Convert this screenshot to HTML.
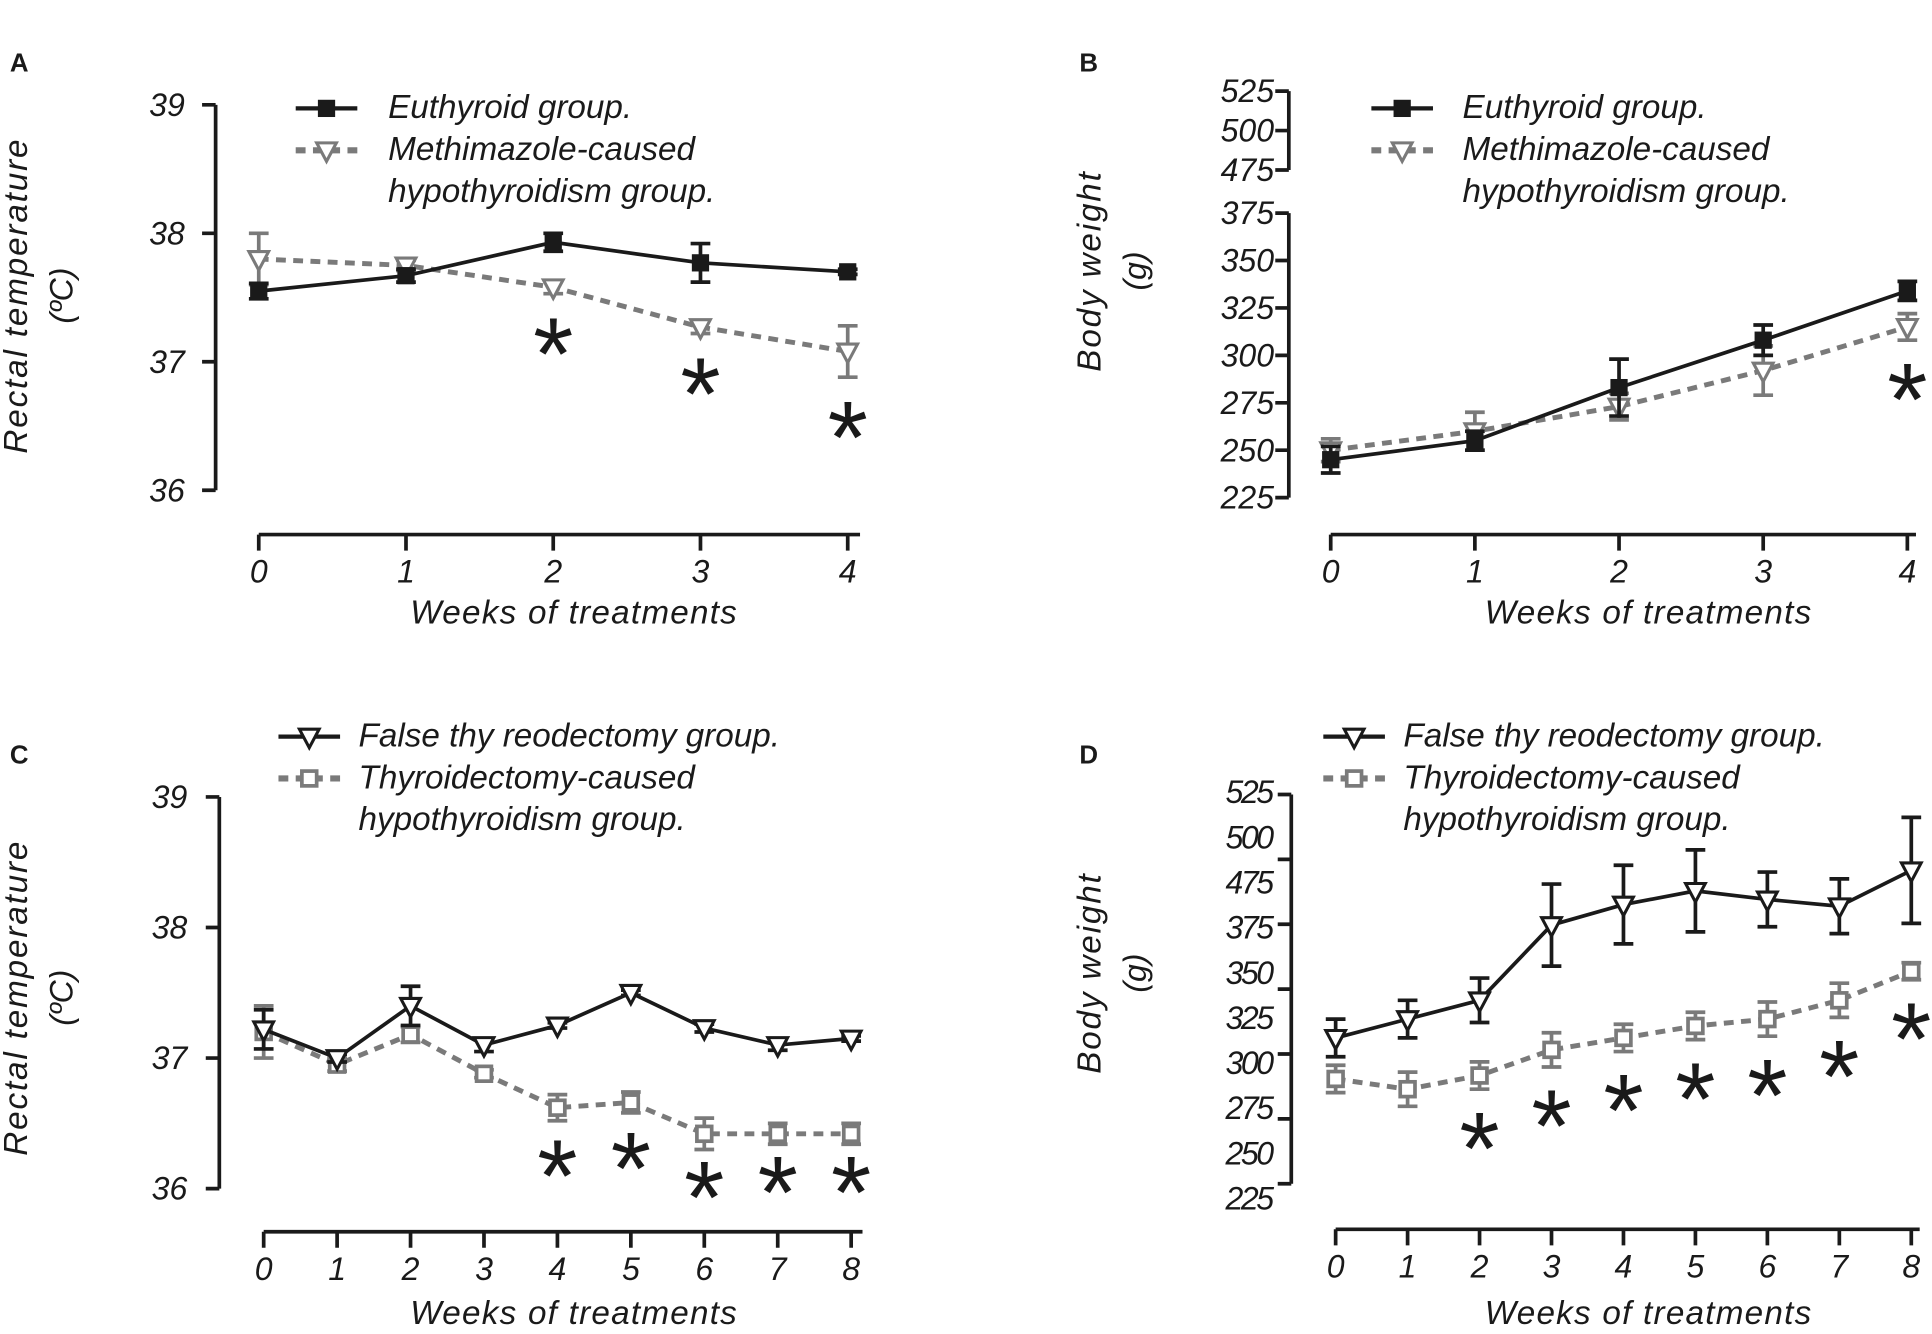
<!DOCTYPE html>
<html><head><meta charset="utf-8"><style>
html,body{margin:0;padding:0;background:#fff;}
svg{display:block;}
text{font-family:"Liberation Sans",sans-serif;font-style:italic;fill:#1a1a1a;}
text.up{font-style:normal;font-weight:bold;}
text.star{font-style:normal;font-weight:normal;}
</style></head><body>
<svg id="fig" width="1932" height="1334" viewBox="0 0 1568 1083" preserveAspectRatio="none" xmlns="http://www.w3.org/2000/svg"></svg>
<script>
// Panel A: rectal temperature, methimazole
const weeksA = [0,1,2,3,4];
const euthTempA = [37.55,37.67,37.93,37.77,37.70];
const euthTempErrA = [0.06,0.05,0.07,0.15,0.02];
const methTempA = [37.80,37.75,37.58,37.27,37.08];
const methTempErrA = [0.20,0.04,0.05,0.05,0.20];
const starsA = [2,3,4];
const yTicksA = [36,37,38,39];
// Panel B: body weight, methimazole
const euthWtB = [245,255,283,308,334];
const euthWtErrB = [7,5,15,8,5];
const methWtB = [250,260,273,292,315];
const methWtErrB = [6,10,7,13,7];
const starsB = [4];
const yTicksBLow = [225,250,275,300,325,350,375];
const yTicksBHigh = [475,500,525];
// Panel C: rectal temperature, thyroidectomy
const weeksC = [0,1,2,3,4,5,6,7,8];
const falseTempC = [37.22,37.0,37.4,37.1,37.25,37.5,37.23,37.1,37.15];
const falseTempErrC = [0.15,0.03,0.15,0.05,0.02,0.02,0.03,0.04,0.02];
const thyTempC = [37.2,36.95,37.18,36.88,36.62,36.66,36.42,36.42,36.42];
const thyTempErrC = [0.2,0.05,0.06,0.03,0.1,0.08,0.12,0.08,0.08];
const starsC = [4,5,6,7,8];
const yTicksC = [36,37,38,39];
// Panel D: body weight, thyroidectomy
const falseWtD = [310,321,332,376,388,396,391,387,408];
const falseWtErrD = [11,11,13,24,23,24,16,16,31];
const thyWtD = [286,280,288,303,310,317,321,332,349];
const thyWtErrD = [8,10,8,10,8,8,10,10,5];
const starsD = [2,3,4,5,6,7,8];
const yTickLabelsD = ["525","500","475","375","350","325","300","275","250","225"];

const NS="http://www.w3.org/2000/svg";
const svg=document.getElementById('fig');
function mk(tag,attrs,parent){const e=document.createElementNS(NS,tag);for(const k in attrs)e.setAttribute(k,attrs[k]);(parent||svg).appendChild(e);return e;}
function txt(x,y,s,size,anchor,parent,extra){const t=mk('text',Object.assign({x:x,y:y,'font-size':size,'text-anchor':anchor||'start'},extra||{}),parent);t.textContent=s;return t;}

const BLACK='#1a1a1a', GRAY='#7a7a7a';
function marker(g,type,x,y,color){
  if(type==='square'){const r=mk('rect',{x:x-7,y:y-7,width:14,height:14,fill:color},g);
    
    }
  else if(type==='tri'){const p=mk('polygon',{points:(x-8)+','+(y-6)+' '+(x+8)+','+(y-6)+' '+x+','+(y+9),fill:'#fff',stroke:color,'stroke-width':2.5},g);
    
    }
  else if(type==='osq'){const r=mk('rect',{x:x-6,y:y-6,width:12,height:12,fill:'#fff',stroke:color,'stroke-width':3},g);
    
    }
}
function series(name,xs,vals,errs,xf,yf,color,dashed,mtype){
  const g=mk('g',{});
  
  
  vals.forEach((v,i)=>{const x=xf(xs[i]);const y1=yf(v+errs[i]),y2=yf(v-errs[i]);
    const e=mk('path',{d:`M${x},${y1}V${y2}M${x-8},${y1}H${x+8}M${x-8},${y2}H${x+8}`,stroke:color,'stroke-width':3,fill:'none'},g);
    
    });
  const pts=vals.map((v,i)=>xf(xs[i])+','+yf(v)).join(' ');
  const l=mk('polyline',{points:pts,fill:'none',stroke:color,'stroke-width':dashed?4:3,'stroke-dasharray':dashed?'8,6':'none'},g);
  
  
  vals.forEach((v,i)=>marker(g,mtype,xf(xs[i]),yf(v),color));
}
const STAR=84;
function stars(list,vals,errs,xf,yf,off){
  list.forEach(w=>{const t=txt(xf(w),yf(vals[w]-errs[w])+off+0.51*STAR,'*',STAR,'middle',null,{'class':'star'});
    
    });
}
function xAxis(name,weeks,xf,y,x0,x1,title,tx,ty){
  const g=mk('g',{});
  
  
  let d=`M${x0},${y}H${x1}`;weeks.forEach(w=>d+=`M${xf(w)},${y}v13`);
  mk('path',{d:d,stroke:BLACK,'stroke-width':3,fill:'none'},g);
  weeks.forEach(w=>txt(xf(w),y+39,String(w),26,'middle',g));
  const t=txt(tx,ty,title,27,'middle',g,{'letter-spacing':'1'});
  
  
}
function yAxis(name,ticks,yf,x,labx,labels){
  const g=mk('g',{});
  
  
  let d=`M${x},${yf(ticks[0])}V${yf(ticks[ticks.length-1])}`;ticks.forEach(t=>d+=`M${x},${yf(t)}h-11`);
  mk('path',{d:d,stroke:BLACK,'stroke-width':3,fill:'none'},g);
  if(labels!==false)ticks.forEach(t=>txt(labx,yf(t)+9,String(t),26,'end',g));
  return g;
}
function yTitle(name,cx,cy,l1,l2){
  const g=mk('g',{});
  
  
  txt(0,0,l1,27,'middle',g,{transform:`translate(${cx},${cy}) rotate(-90)`,'letter-spacing':'1.5'});
  txt(0,0,l2,26,'middle',g,{transform:`translate(${cx+37},${cy}) rotate(-90)`});
}
function legend(name,x0,y0,tx,m1,c1,d1,l1,m2,c2,d2,l2a,l2b){
  const g=mk('g',{});
  
  
  mk('line',{x1:x0,x2:x0+50,y1:y0,y2:y0,stroke:c1,'stroke-width':d1?4:3.5,'stroke-dasharray':d1?'8,6':'none'},g);
  marker(g,m1,x0+25,y0,c1);
  mk('line',{x1:x0,x2:x0+50,y1:y0+34,y2:y0+34,stroke:c2,'stroke-width':d2?5:3.5,'stroke-dasharray':d2?'8,6':'none'},g);
  marker(g,m2,x0+25,y0+34,c2);
  txt(tx,y0+8,l1,27,'start',g);txt(tx,y0+42,l2a,27,'start',g);txt(tx,y0+76,l2b,27,'start',g);
}
function panelLetter(s,x,y){const t=txt(x,y,s,21,'start',null,{'class':'up'});
  
  }

// ---- Panel A
const xA=w=>210+w*119.5, yA=v=>398-(v-36)*104.3;
panelLetter('A',8,58);
yAxis('y-axis-a',yTicksA,yA,175,150);
xAxis('x-axis-a',weeksA,xA,434,210,698,'Weeks of treatments',466,506);
yTitle('y-axis-title-a',22,240,'Rectal temperature','(ºC)');
series('series-methimazole-a',weeksA,methTempA,methTempErrA,xA,yA,GRAY,true,'tri');
series('series-euthyroid-a',weeksA,euthTempA,euthTempErrA,xA,yA,BLACK,false,'square');
stars(starsA,methTempA,methTempErrA,xA,yA,35);
legend('legend-a',240,88,315,'square',BLACK,false,'Euthyroid group.','tri',GRAY,true,'Methimazole-caused','hypothyroidism group.');

// ---- Panel B
const xB=w=>1080+w*117, yB=v=>404-(v-225)*1.54;
const yBH=v=>138-(v-475)*1.28;
panelLetter('B',876,58);
yAxis('y-axis-b-lower',yTicksBLow,yB,1046,1034);
yAxis('y-axis-b-upper',yTicksBHigh,yBH,1046,1034);
xAxis('x-axis-b',weeksA,xB,434,1080,1555,'Weeks of treatments',1338,506);
yTitle('y-axis-title-b',893,220,'Body weight','(g)');
series('series-methimazole-b',weeksA,methWtB,methWtErrB,xB,yB,GRAY,true,'tri');
series('series-euthyroid-b',weeksA,euthWtB,euthWtErrB,xB,yB,BLACK,false,'square');
stars(starsB,methWtB,methWtErrB,xB,yB,34);
legend('legend-b',1113,88,1187,'square',BLACK,false,'Euthyroid group.','tri',GRAY,true,'Methimazole-caused','hypothyroidism group.');

// ---- Panel C
const xC=w=>214+w*59.6, yC=v=>965-(v-36)*106;
panelLetter('C',8,620);
yAxis('y-axis-c',yTicksC,yC,178,152);
xAxis('x-axis-c',weeksC,xC,1000,214,700,'Weeks of treatments',466,1075);
yTitle('y-axis-title-c',22,810,'Rectal temperature','(ºC)');
series('series-thyroidectomy-c',weeksC,thyTempC,thyTempErrC,xC,yC,GRAY,true,'osq');
series('series-false-thyroidectomy-c',weeksC,falseTempC,falseTempErrC,xC,yC,BLACK,false,'tri');
stars(starsC.slice(0,2),thyTempC,thyTempErrC,xC,yC,31);
stars(starsC.slice(2),thyTempC,thyTempErrC,xC,yC,25);
legend('legend-c',226,598,291,'tri',BLACK,false,'False thy reodectomy group.','osq',GRAY,true,'Thyroidectomy-caused','hypothyroidism group.');

// ---- Panel D
const xD=w=>1084+w*58.4, yD=v=>856.5-(v-300)*1.388;
panelLetter('D',876,620);
(function(){
  const g=mk('g',{});
  
  
  let d='M1048,645V961';for(let i=0;i<7;i++)d+=`M1048,${645+i*52.67}h-11`;
  mk('path',{d:d,stroke:BLACK,'stroke-width':3,fill:'none'},g);
  const n=yTickLabelsD.length;
  yTickLabelsD.forEach((s,i)=>txt(1032,652+i*(330/(n-1)),s,26,'end',g,{'letter-spacing':'-2'}));
})();
xAxis('x-axis-d',weeksC,xD,998,1084,1558,'Weeks of treatments',1338,1075);
yTitle('y-axis-title-d',893,790,'Body weight','(g)');
series('series-thyroidectomy-d',weeksC,thyWtD,thyWtErrD,xD,yD,GRAY,true,'osq');
series('series-false-thyroidectomy-d',weeksC,falseWtD,falseWtErrD,xD,yD,BLACK,false,'tri');
stars(starsD,thyWtD,thyWtErrD,xD,yD,34);
legend('legend-d',1074,598,1139,'tri',BLACK,false,'False thy reodectomy group.','osq',GRAY,true,'Thyroidectomy-caused','hypothyroidism group.');
</script>
</body></html>
